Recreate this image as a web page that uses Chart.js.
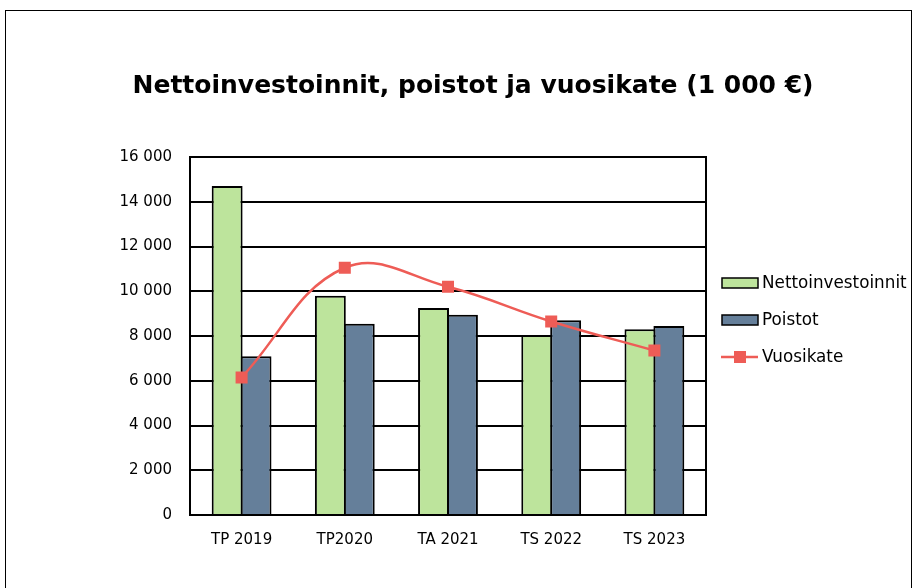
<!DOCTYPE html>
<html>
<head>
<meta charset="utf-8">
<script src="https://cdn.jsdelivr.net/npm/chart.js@4.4.0/dist/chart.umd.min.js"></script>
<style>
  html, body { margin: 0; padding: 0; background: #fff; }
  #wrap { width: 918px; height: 588px; position: relative; }
</style>
</head>
<body>
<div id="wrap"><canvas id="chart" width="918" height="588"></canvas></div>
<script>
const categories = ["TP 2019", "TP2020", "TA 2021", "TS 2022", "TS 2023"];
const nettoinvestoinnit = [14700, 9800, 9250, 8050, 8300];
const poistot = [7100, 8550, 8950, 8700, 8450];
const vuosikate = [6150, 11050, 10200, 8650, 7350];
const yTicks = [0, 2000, 4000, 6000, 8000, 10000, 12000, 14000, 16000];

const titleText = "Nettoinvestoinnit, poistot ja vuosikate (1 000 €)";
const fontFamily = "'DejaVu Sans', sans-serif";

const green = "#BDE49C";
const slate = "#657F9A";
const red = "#EE5C56";

function formatThousands(value) {
  return String(value).replace(/\B(?=(\d{3})+(?!\d))/g, " ");
}

const framePlugin = {
  id: "frame",
  beforeDraw(chart) {
    const ctx = chart.ctx;
    ctx.save();
    ctx.fillStyle = "#fff";
    ctx.fillRect(0, 0, chart.width, chart.height);
    ctx.strokeStyle = "#000";
    ctx.lineWidth = 1;
    ctx.strokeRect(5.5, 10.5, 906, 600);
    ctx.restore();
  },
  afterDatasetsDraw(chart) {
    const { ctx, chartArea } = chart;
    ctx.save();
    ctx.strokeStyle = "#000";
    ctx.lineWidth = 2;
    ctx.strokeRect(chartArea.left, chartArea.top, chartArea.right - chartArea.left, chartArea.bottom - chartArea.top);
    ctx.restore();
  },
  afterDraw(chart) {
    const ctx = chart.ctx;
    ctx.save();
    // title
    ctx.fillStyle = "#000";
    ctx.font = `bold 25px ${fontFamily}`;
    ctx.textAlign = "center";
    ctx.textBaseline = "middle";
    ctx.fillText(titleText, 473, 86);

    // legend
    ctx.font = `16.8px ${fontFamily}`;
    ctx.textAlign = "left";
    const rows = [283, 320, 357];
    chart.data.datasets.forEach((ds, i) => {
      const y = rows[i];
      if (ds.type === "line") {
        ctx.strokeStyle = ds.borderColor;
        ctx.lineWidth = ds.borderWidth;
        ctx.beginPath();
        ctx.moveTo(721, y);
        ctx.lineTo(758, y);
        ctx.stroke();
        ctx.fillStyle = ds.pointBackgroundColor;
        ctx.fillRect(734, y - 6, 12, 12);
      } else {
        ctx.fillStyle = ds.backgroundColor;
        ctx.fillRect(722, y - 5, 36, 10);
        ctx.strokeStyle = "#000";
        ctx.lineWidth = 1.5;
        ctx.strokeRect(722, y - 5, 36, 10);
      }
      ctx.fillStyle = "#000";
      ctx.fillText(ds.label, 762, y + 1);
    });
    ctx.restore();
  }
};

new Chart(document.getElementById("chart"), {
  data: {
    labels: categories,
    datasets: [
      {
        type: "bar",
        label: "Nettoinvestoinnit",
        data: nettoinvestoinnit,
        backgroundColor: green,
        borderColor: "#000",
        borderWidth: 2,
        borderSkipped: "bottom",
        categoryPercentage: 0.56,
        barPercentage: 1.07,
        order: 2
      },
      {
        type: "bar",
        label: "Poistot",
        data: poistot,
        backgroundColor: slate,
        borderColor: "#000",
        borderWidth: 2,
        borderSkipped: "bottom",
        categoryPercentage: 0.56,
        barPercentage: 1.07,
        order: 2
      },
      {
        type: "line",
        label: "Vuosikate",
        data: vuosikate,
        borderColor: red,
        borderWidth: 2.5,
        tension: 0.4,
        pointStyle: "rect",
        pointRadius: 8.5,
        pointBackgroundColor: red,
        pointBorderColor: red,
        pointBorderWidth: 0,
        fill: false,
        order: 1
      }
    ]
  },
  plugins: [framePlugin],
  options: {
    responsive: false,
    animation: false,
    layout: { padding: { left: 0, top: 157, right: 212, bottom: 0 } },
    plugins: {
      legend: { display: false },
      title: { display: false },
      tooltip: { enabled: false }
    },
    scales: {
      x: {
        grid: { display: false, drawTicks: false },
        border: { display: false },
        ticks: {
          color: "#000",
          font: { family: fontFamily, size: 15 },
          padding: 16,
          maxRotation: 0
        },
        afterFit(scale) { scale.height = 73; }
      },
      y: {
        min: 0,
        max: 16000,
        afterBuildTicks(scale) { scale.ticks = yTicks.map((v) => ({ value: v })); },
        grid: { color: "#000", lineWidth: 2, drawTicks: false },
        border: { display: false },
        ticks: {
          color: "#000",
          font: { family: fontFamily, size: 15 },
          padding: 18,
          callback: (v) => formatThousands(v)
        },
        afterFit(scale) { scale.width = 190; }
      }
    }
  }
});
</script>
</body>
</html>
